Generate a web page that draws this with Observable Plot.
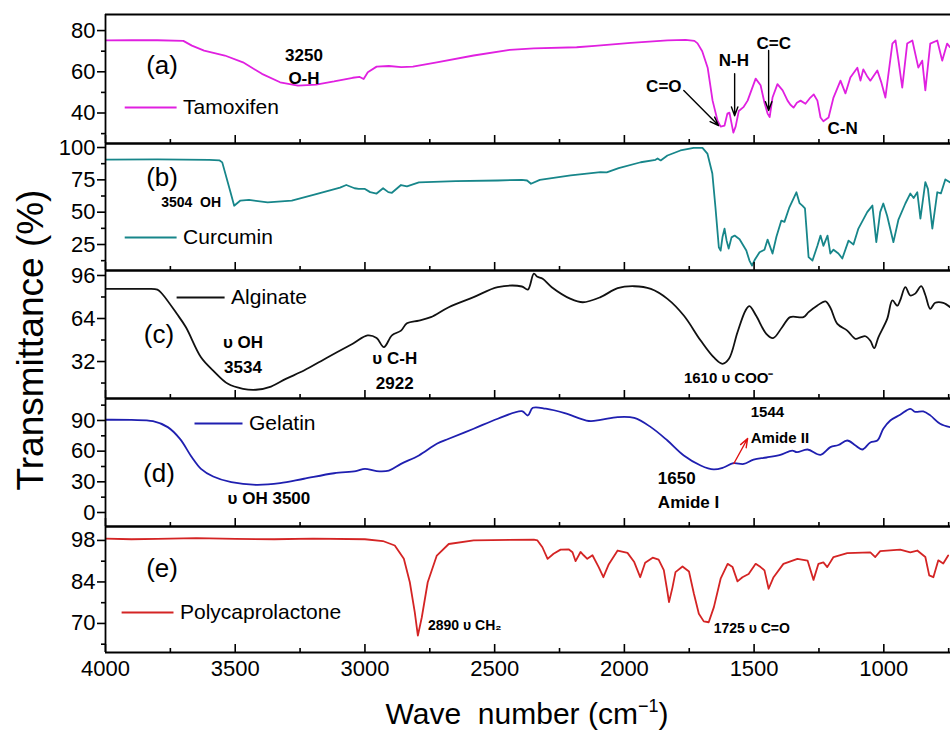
<!DOCTYPE html>
<html>
<head>
<meta charset="utf-8">
<script src="https://cdn.jsdelivr.net/npm/d3@7"></script>
<script src="https://cdn.jsdelivr.net/npm/@observablehq/plot@0.6"></script>
<style>
  body { margin: 0; background: #fff; }
  #chart { position: relative; width: 950px; height: 731px; overflow: hidden; font-family: "Liberation Sans", Arial, sans-serif; }
  #chart svg { display: block; }
  .ytitle { position: absolute; left: 30px; top: 340px; transform: translate(-50%, -50%) rotate(-90deg); white-space: pre; font-size: 37px; line-height: 1; }
  .xtitle { position: absolute; left: 527px; top: 697px; transform: translateX(-50%); white-space: pre; font-size: 30px; line-height: 1; }
  .xtitle sup { font-size: 18px; vertical-align: 12px; }
</style>
</head>
<body>
<div id="chart"></div>
<script>
// ---------- data ----------
const majorWavenumbers = [4000, 3500, 3000, 2500, 2000, 1500, 1000];
const minorWavenumbers = [3750, 3250, 2750, 2250, 1750, 1250, 750];

const tamoxifenWn = [4000,3900,3800,3700,3667,3620,3540,3470,3397,3327,3258,3188,3119,3047,3020,3005,2989,2955,2908,2860,2815,2723,2581,2442,2349,2184,2114,1975,1834,1764,1730,1718,1700,1679,1660,1641,1629,1614,1603,1595,1580,1571,1559,1540,1525,1494,1475,1460,1448,1440,1429,1410,1390,1371,1360,1348,1335,1321,1302,1283,1270,1256,1244,1233,1213,1194,1167,1148,1129,1102,1090,1079,1065,1052,1025,1010,994,967,955,944,929,910,890,867,852,840,821,794,775,756,745];
const tamoxifenT = [75.2,75.3,75.3,75.0,72.7,70.3,67.9,64.6,59.0,54.9,53.3,53.8,55.3,57.1,57.5,56.5,59.8,62.5,62.8,62.3,62.5,64.6,67.9,70.6,71.4,71.9,72.6,74.0,75.2,75.5,75.0,73.8,70,62,46,36.3,33.4,33.9,39.7,40.2,30.5,33.5,41,43,46,56.7,53.5,45,39.7,38,47.5,54,51,46,44,42.6,45,46,44.5,47.5,49,46,37.8,36,37.8,47.5,55.7,49.5,57.2,62,55.7,61.2,58,55.7,60.6,55,47.5,73.7,75.2,65.9,52.3,73.7,75.2,62,65.4,51,73.7,75.2,65.4,73.7,72];

const curcuminWn = [4000,3800,3600,3560,3550,3520,3504,3480,3447,3375,3282,3188,3096,3072,3040,3024,3000,2980,2955,2930,2910,2896,2861,2838,2792,2650,2488,2395,2375,2360,2326,2207,2092,2068,2022,1937,1880,1872,1860,1834,1784,1733,1699,1680,1661,1649,1636,1629,1622,1614,1606,1598,1587,1575,1556,1530,1518,1508,1498,1479,1460,1448,1429,1414,1395,1383,1364,1337,1325,1314,1304,1290,1275,1256,1244,1233,1217,1206,1194,1175,1160,1136,1117,1098,1064,1044,1029,1014,1002,987,963,944,917,898,885,871,859,840,830,813,794,780,763,744];
const curcuminT = [90.7,90.8,90.5,90.0,88.5,66.7,55,59,59.5,57.5,59,64,69,71,68.5,68,68,65.5,64.4,68.5,65.5,65,71,70,73,74,74.5,75,74.5,72,75,78.5,80.9,80.7,84,88.6,90.5,91.5,90,93.8,97.7,99.7,99.7,95.3,79.9,53.8,22.9,20.3,30.6,37.3,28,21.9,30.5,31.9,29,20.3,12.6,8.7,13,19,21,28.8,18,31,43.5,42.5,53.8,65.4,57,55.1,53,15.2,12.6,24,31.9,24,31.9,18,21,18,14.2,28,25,37.3,50,55.1,26.8,50,56.7,47,26.8,44,56.7,64.4,61,65.4,45,73.2,68,37.3,65.4,64.5,75.3,73];

const alginateWn = [4000,3850,3800,3782,3725,3690,3632,3585,3528,3470,3420,3362,3305,3235,3143,3047,2990,2955,2927,2896,2861,2838,2792,2746,2677,2581,2488,2395,2372,2349,2335,2315,2280,2207,2160,2092,2026,1962,1898,1834,1771,1706,1656,1622,1597,1564,1533,1518,1492,1453,1427,1392,1361,1310,1290,1256,1225,1206,1179,1141,1109,1090,1071,1052,1037,1021,987,967,948,937,917,898,879,856,840,821,802,771,744];
const alginateT = [86,86,85.5,82.4,67.5,57.5,35.2,25.3,15.4,11.7,11,13.4,19.1,25.3,35.2,45.2,51.4,49.5,42.7,51.5,55,60.5,62.5,65,72.4,79.9,87.3,87.8,85.5,97.3,95,93.5,87.3,78.6,76.1,79.9,86.6,88,86,78.6,66.2,47.6,35.2,30.3,34,53.8,70,73.2,66,52.6,49.4,57.5,65,65,68.7,73.7,76.7,72,60,55,48.9,50,50.8,47.5,41.9,50,63.7,77.4,73.5,77.4,87.3,81.1,82.5,88,81.5,71.2,75.7,75.7,72.4];

const gelatinWn = [4000,3900,3817,3760,3713,3667,3632,3585,3515,3420,3327,3235,3119,3035,3000,2955,2908,2861,2792,2723,2677,2581,2488,2395,2372,2353,2303,2230,2137,2092,2026,1962,1898,1834,1771,1706,1656,1618,1580,1540,1502,1452,1399,1353,1335,1294,1244,1206,1175,1141,1109,1083,1052,1025,1002,975,937,898,879,848,821,783,744];
const gelatinT = [90.7,90.5,89.3,83.5,72,54,42.7,35.2,29.6,27.1,28.7,33,38.4,40.5,42.7,40.5,41,47.6,55.8,67.2,72.1,81.9,91.7,99.1,94.9,102.4,101.5,97.2,89.5,90.5,93.3,92.5,83.5,70.4,55.8,46,42.1,44,48.2,47.5,51.8,53.8,56.4,60.6,59,61.6,56.4,63.9,66,70.4,65.5,61.6,68.5,70.4,81.9,90,95.6,101.4,98.5,98.8,95,86.8,83.5];

const pclWn = [4000,3900,3800,3650,3500,3350,3200,3000,2931,2885,2850,2827,2808,2796,2781,2758,2723,2677,2581,2349,2335,2316,2296,2273,2246,2215,2200,2188,2169,2157,2143,2123,2099,2081,2060,2026,1988,1962,1939,1920,1891,1868,1848,1834,1828,1815,1803,1776,1751,1732,1713,1694,1675,1655,1629,1602,1583,1564,1545,1521,1494,1475,1460,1444,1425,1387,1333,1294,1271,1252,1233,1218,1194,1141,1052,1033,1014,937,898,871,840,825,809,790,771,752];
const pclT = [98.6,98.4,98.5,98.8,98.5,98.4,98.6,98.4,97.8,96.3,91.8,83.9,73.8,65.9,72,83.9,92.9,96.8,98,98.3,98,95.7,91.8,93.5,94.9,95,94,91,94.1,93,91.8,93,89,85.6,90,94.6,93.8,90.7,85.6,90.5,92.2,91.5,88,80.6,77.2,82,87.3,89.2,87.5,80,73.3,70.7,70.4,75.5,85.1,90.1,89,84.2,85.6,86.7,90.1,89,87.9,81.7,85.6,90.1,91.8,91.2,84.7,90.1,90.6,89,92.4,93.7,94,92.4,94.4,94.9,94,94.6,92.4,86.2,85.6,91.3,90.2,92.9];

const tamoxifenTicks = [40, 60, 80],   tamoxifenMinor = [30, 50, 70];
const curcuminTicks = [25, 50, 75, 100], curcuminMinor = [12.5, 37.5, 62.5, 87.5];
const alginateTicks = [32, 64, 96],    alginateMinor = [16, 48, 80];
const gelatinTicks = [0, 30, 60, 90],  gelatinMinor = [15, 45, 75, 105];
const pclTicks = [70, 84, 98],         pclMinor = [63, 77, 91];

const seriesNames = ["Tamoxifen", "Curcumin", "Alginate", "Gelatin", "Polycaprolactone"];
const seriesColors = ["#e020e0", "#17868a", "#111111", "#1f1fb0", "#d42424"];

// ---------- helpers ----------
const table = (wn, t) => wn.map((w, i) => ({wn: w, t: t[i]}));
const xDomain = [4000, 743];
const W = 950, ML = 105;
const FONT = '"Liberation Sans", Arial, sans-serif';
const fmt = d => String(d);

const lbl = (s, x, y, o = {}) => Plot.text([s], {x, y, fontSize: 17, fontWeight: "bold", fill: "black", fontFamily: FONT, ...o});
const panelTag = (s, x, y) => Plot.text([s], {x, y, fontSize: 26, fill: "black", fontFamily: FONT});
const legend = (i, x1, x2, y) => [
  Plot.ruleY([y], {x1, x2, stroke: seriesColors[i], strokeWidth: 2}),
  Plot.text([seriesNames[i]], {x: x2, y, dx: 6, textAnchor: "start", fontSize: 21, fill: "black", fontFamily: FONT})
];
const arrow = (x1, y1, x2, y2, color = "black") =>
  Plot.arrow([0], {x1, y1, x2, y2, stroke: color, strokeWidth: 1.4, headLength: 10, headAngle: 40});

function panel({height, marginTop = 0, marginBottom = 0, yDomain, yTicks, yMinor, data, color, curve = "linear", extra = [], xLabels = false}) {
  const innerH = height - marginTop - marginBottom;
  return Plot.plot({
    width: W, height, marginLeft: ML, marginRight: 0, marginTop, marginBottom,
    style: {fontFamily: FONT, color: "black", background: "transparent", overflow: "visible"},
    x: {domain: xDomain, axis: null},
    y: {domain: yDomain, axis: null},
    marks: [
      Plot.line(data, {x: "wn", y: "t", stroke: color, strokeWidth: 1.8, curve, clip: true}),
      ...extra,
      Plot.ruleX([4000], {stroke: "black", strokeWidth: 1.8}),
      Plot.ruleY(yDomain, {stroke: "black", strokeWidth: 1.8}),
      Plot.axisY(yTicks, {tickSize: 8, tickPadding: 2, strokeWidth: 1.6, fontSize: 22, tickFormat: fmt, label: null}),
      Plot.axisY(yMinor, {tickSize: 4, strokeWidth: 1.6, tickFormat: () => "", label: null}),
      Plot.tickX(majorWavenumbers, {x: d => d, insetTop: innerH - 8, stroke: "black", strokeWidth: 1.6}),
      Plot.tickX(minorWavenumbers, {x: d => d, insetTop: innerH - 4, stroke: "black", strokeWidth: 1.6}),
      ...(xLabels ? [Plot.axisX(majorWavenumbers, {tickSize: 0, tickPadding: 8, fontSize: 22, tickFormat: fmt, label: null})] : [])
    ]
  });
}

const chart = document.getElementById("chart");

chart.append(panel({
  height: 143, marginTop: 14, yDomain: [25.2, 87.8], yTicks: tamoxifenTicks, yMinor: tamoxifenMinor,
  data: table(tamoxifenWn, tamoxifenT), color: seriesColors[0],
  extra: [
    panelTag("(a)", 3782, 63),
    lbl("3250", 3235, 67.9), lbl("O-H", 3235, 56.7),
    ...legend(0, 3924, 3724, 42.7),
    lbl("C=O", 1848, 52.8), arrow(1771, 50.9, 1637, 33.9),
    lbl("N-H", 1578, 65.5), arrow(1575, 59.1, 1575, 38.7),
    lbl("C=C", 1424, 73.7), arrow(1444, 70.3, 1444, 41.2),
    lbl("C-N", 1159, 32.5)
  ]
}));

chart.append(panel({
  height: 127, yDomain: [4.9, 103.1], yTicks: curcuminTicks, yMinor: curcuminMinor,
  data: table(curcuminWn, curcuminT), color: seriesColors[1],
  extra: [
    panelTag("(b)", 3782, 76.8),
    lbl("3504  OH", 3670, 57.5, {fontSize: 14}),
    ...legend(1, 3924, 3724, 30.4)
  ]
}));

chart.append(panel({
  height: 128, yDomain: [4.5, 99.7], yTicks: alginateTicks, yMinor: alginateMinor,
  data: table(alginateWn, alginateT), color: seriesColors[2], curve: "catmull-rom",
  extra: [
    panelTag("(c)", 3794, 52.1),
    ...legend(2, 3724, 3539, 79.6),
    lbl("\u03c5 OH", 3470, 46.1), lbl("3534", 3470, 27.5),
    lbl("\u03c5 C-H", 2885, 34.2), lbl("2922", 2885, 15.6),
    lbl("1610 \u03c5 COO\u207b", 1598, 19.4, {fontSize: 15})
  ]
}));

chart.append(panel({
  height: 128, yDomain: [-13.7, 111.5], yTicks: gelatinTicks, yMinor: gelatinMinor,
  data: table(gelatinWn, gelatinT), color: seriesColors[3], curve: "catmull-rom",
  extra: [
    panelTag("(d)", 3794, 38.1),
    ...legend(3, 3655, 3470, 87.1),
    lbl("\u03c5 OH 3500", 3370, 13.7),
    lbl("1650", 1871, 33.2, {textAnchor: "start"}), lbl("Amide I", 1871, 9.8, {textAnchor: "start"}),
    lbl("1544", 1513, 97.8, {textAnchor: "start", fontSize: 15}), lbl("Amide II", 1513, 72.4, {textAnchor: "start", fontSize: 15}),
    arrow(1578, 47.9, 1525, 72.4, "#e01010")
  ]
}));

chart.append(panel({
  height: 205, marginBottom: 79, yDomain: [60.2, 102.7], yTicks: pclTicks, yMinor: pclMinor,
  data: table(pclWn, pclT), color: seriesColors[4], xLabels: true,
  extra: [
    panelTag("(e)", 3782, 88.6),
    ...legend(4, 3936, 3736, 73.7),
    lbl("2890 \u03c5 CH\u2082", 2757, 69.3, {textAnchor: "start", fontSize: 14}),
    lbl("1725 \u03c5 C=O", 1656, 68.3, {textAnchor: "start", fontSize: 14})
  ]
}));

const yt = document.createElement("div");
yt.className = "ytitle";
yt.textContent = "Transmittance (%)";
chart.append(yt);

const xt = document.createElement("div");
xt.className = "xtitle";
xt.innerHTML = "Wave  number (cm<sup>\u22121</sup>)";
chart.append(xt);
</script>
</body>
</html>
